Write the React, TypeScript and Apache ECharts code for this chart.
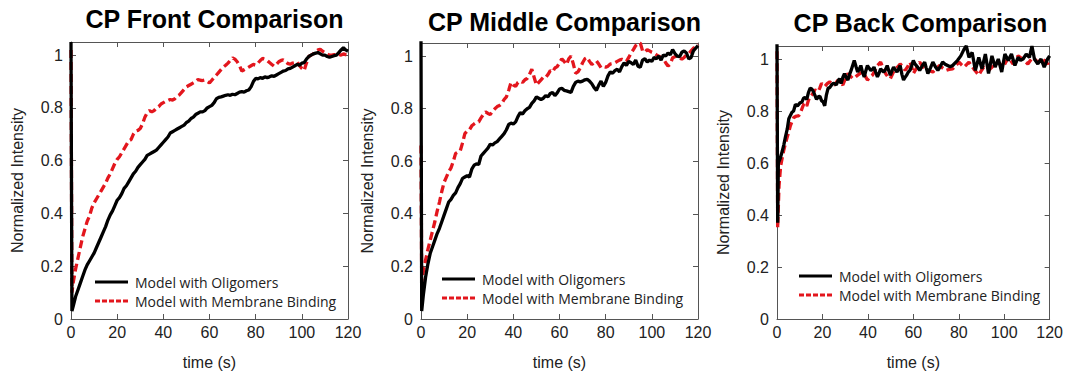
import React, { useEffect, useRef } from "react";
import * as echarts from "echarts";

const titles = ["CP Front Comparison", "CP Middle Comparison", "CP Back Comparison"];
const seriesNames = ["Model with Oligomers", "Model with Membrane Binding"];
const xTicks = { min: 0, max: 120, interval: 20 };
const yTicks = { min: 0, max: 1.05, interval: 0.2 };

const frontOligomers: [number, number][] = [[0,1.05],[0.4,0.03],[1,0.05],[2,0.085],[3,0.11],[4,0.135],[5,0.16],[6,0.185],[7,0.205],[8,0.22],[9,0.235],[10,0.25],[11,0.27],[12,0.29],[13,0.31],[14,0.33],[15,0.35],[16,0.375],[17,0.395],[18,0.41],[19,0.43],[20,0.45],[21,0.46],[22,0.475],[23,0.495],[24,0.505],[25,0.52],[26,0.535],[27,0.55],[28,0.56],[29,0.575],[30,0.585],[31,0.595],[32,0.605],[33,0.62],[34,0.625],[35,0.63],[36,0.635],[37,0.64],[38,0.65],[39,0.66],[40,0.67],[41,0.68],[42,0.69],[43,0.705],[44,0.71],[45,0.715],[46,0.72],[47,0.725],[48,0.73],[49,0.735],[50,0.745],[51,0.75],[52,0.76],[53,0.765],[54,0.775],[55,0.78],[56,0.785],[57,0.785],[58,0.79],[59,0.8],[60,0.805],[61,0.81],[62,0.82],[63,0.835],[64,0.84],[65,0.842],[66,0.845],[67,0.848],[68,0.85],[69,0.848],[70,0.852],[71,0.85],[72,0.855],[73,0.86],[74,0.862],[75,0.86],[76,0.865],[77,0.868],[78,0.88],[79,0.9],[80,0.912],[81,0.91],[82,0.915],[83,0.912],[84,0.918],[85,0.915],[86,0.918],[87,0.922],[88,0.92],[89,0.925],[90,0.93],[91,0.935],[92,0.94],[93,0.942],[94,0.948],[95,0.95],[96,0.955],[97,0.96],[98,0.965],[99,0.962],[100,0.97],[101,0.972],[102,0.985],[103,0.995],[104,1.0],[105,1.005],[106,1.008],[107,1.01],[108,1.005],[109,1.0],[110,1.0],[111,0.995],[112,0.992],[113,0.995],[114,0.998],[115,1.0],[116,1.01],[117,1.02],[118,1.028],[119,1.02],[120,1.015]];

const frontMembrane: [number, number][] = [[0,1.02],[0.4,0.1],[1,0.14],[2,0.19],[3,0.23],[4,0.27],[5,0.31],[6,0.34],[7,0.37],[8,0.39],[9,0.42],[10,0.44],[11,0.455],[12,0.47],[13,0.485],[14,0.5],[15,0.515],[16,0.535],[17,0.55],[18,0.57],[19,0.59],[20,0.605],[21,0.615],[22,0.63],[23,0.645],[24,0.66],[25,0.675],[26,0.68],[27,0.7],[28,0.712],[29,0.715],[30,0.722],[31,0.74],[32,0.765],[33,0.782],[34,0.79],[35,0.785],[36,0.79],[37,0.8],[38,0.805],[39,0.815],[40,0.82],[41,0.825],[42,0.828],[43,0.832],[44,0.83],[45,0.835],[46,0.845],[47,0.85],[48,0.86],[49,0.87],[50,0.88],[51,0.885],[52,0.89],[53,0.895],[54,0.9],[55,0.908],[56,0.905],[57,0.904],[58,0.906],[59,0.9],[60,0.895],[61,0.905],[62,0.915],[63,0.925],[64,0.935],[65,0.945],[66,0.955],[67,0.962],[68,0.97],[69,0.98],[70,0.99],[71,0.985],[72,0.975],[73,0.96],[74,0.94],[75,0.945],[76,0.95],[77,0.955],[78,0.96],[79,0.965],[80,0.962],[81,0.97],[82,0.98],[83,0.988],[84,0.985],[85,0.98],[86,0.972],[87,0.965],[88,0.958],[89,0.965],[90,0.975],[91,0.98],[92,0.982],[93,0.975],[94,0.968],[95,0.966],[96,0.97],[97,0.972],[98,0.975],[99,0.96],[100,0.95],[101,0.942],[102,0.97],[103,0.995],[104,1.0],[105,1.005],[106,1.015],[107,1.02],[108,1.022],[109,1.015],[110,1.01],[111,1.005],[112,1.0],[113,1.0],[114,1.002],[115,1.0],[116,1.003],[117,1.0],[118,1.005],[119,1.002],[120,1.0]];

const middleOligomers: [number, number][] = [[0,1.06],[0.3,0.03],[1,0.09],[2,0.16],[3,0.21],[4,0.25],[5,0.275],[6,0.3],[7,0.325],[8,0.345],[9,0.37],[10,0.395],[11,0.42],[12,0.445],[13,0.455],[14,0.47],[15,0.48],[16,0.5],[17,0.515],[18,0.535],[19,0.54],[20,0.545],[21,0.54],[22,0.57],[23,0.585],[24,0.59],[25,0.588],[26,0.62],[27,0.63],[28,0.64],[29,0.65],[30,0.665],[31,0.662],[32,0.67],[33,0.675],[34,0.685],[35,0.695],[36,0.705],[37,0.72],[38,0.74],[39,0.745],[40,0.742],[41,0.75],[42,0.77],[43,0.785],[44,0.78],[45,0.792],[46,0.8],[47,0.805],[48,0.82],[49,0.83],[50,0.845],[51,0.84],[52,0.835],[53,0.84],[54,0.85],[55,0.845],[56,0.858],[57,0.862],[58,0.85],[59,0.86],[60,0.875],[61,0.878],[62,0.87],[63,0.868],[64,0.865],[65,0.862],[66,0.885],[67,0.9],[68,0.905],[69,0.902],[70,0.905],[71,0.91],[72,0.912],[73,0.905],[74,0.895],[75,0.88],[76,0.87],[77,0.89],[78,0.905],[79,0.885],[80,0.9],[81,0.925],[82,0.94],[83,0.935],[84,0.945],[85,0.95],[86,0.94],[87,0.96],[88,0.975],[89,0.965],[90,0.98],[91,0.975],[92,0.968],[93,0.985],[94,0.962],[95,0.958],[96,0.985],[97,0.99],[98,0.978],[99,0.985],[100,0.98],[101,0.995],[102,0.99],[103,1.0],[104,0.985],[105,1.005],[106,1.0],[107,1.012],[108,1.005],[109,1.025],[110,1.01],[111,1.0],[112,0.998],[113,1.015],[114,1.02],[115,1.012],[116,0.99],[117,0.995],[118,1.02],[119,1.03],[120,1.04]];

const middleMembrane: [number, number][] = [[0,0.66],[0.3,0.14],[1,0.18],[2,0.225],[3,0.265],[4,0.3],[5,0.335],[6,0.37],[7,0.41],[8,0.445],[9,0.485],[10,0.52],[11,0.54],[12,0.56],[13,0.575],[14,0.6],[15,0.63],[16,0.635],[17,0.64],[18,0.67],[19,0.705],[20,0.715],[21,0.72],[22,0.735],[23,0.742],[24,0.748],[25,0.75],[26,0.765],[27,0.778],[28,0.788],[29,0.782],[30,0.778],[31,0.79],[32,0.8],[33,0.808],[34,0.812],[35,0.82],[36,0.835],[37,0.845],[38,0.87],[39,0.9],[40,0.89],[41,0.885],[42,0.9],[43,0.905],[44,0.9],[45,0.91],[46,0.915],[47,0.93],[48,0.95],[49,0.92],[50,0.89],[51,0.9],[52,0.91],[53,0.92],[54,0.918],[55,0.93],[56,0.945],[57,0.94],[58,0.955],[59,0.96],[60,0.975],[61,0.99],[62,0.98],[63,0.968],[64,0.99],[65,1.0],[66,0.97],[67,0.935],[68,0.94],[69,0.955],[70,0.975],[71,0.99],[72,0.995],[73,0.98],[74,0.968],[75,0.975],[76,0.982],[77,0.97],[78,0.956],[79,0.96],[80,0.958],[81,0.962],[82,0.97],[83,0.972],[84,0.975],[85,0.98],[86,0.985],[87,0.988],[88,0.984],[89,0.98],[90,0.995],[91,1.012],[92,1.025],[93,1.04],[94,1.048],[95,1.05],[96,1.02],[97,1.015],[98,1.025],[99,1.02],[100,1.015],[101,1.012],[102,1.005],[103,1.0],[104,0.995],[105,0.99],[106,0.975],[107,0.962],[108,0.97],[109,0.994],[110,0.998],[111,1.0],[112,0.995],[113,0.988],[114,0.995],[115,1.005],[116,1.01],[117,1.02],[118,1.03],[119,1.035],[120,1.045]];

const backOligomers: [number, number][] = [[0,1.06],[0.3,0.37],[0.6,0.6],[1.5,0.62],[2.3,0.645],[3,0.67],[3.7,0.7],[4.5,0.73],[5.2,0.77],[6,0.785],[6.6,0.795],[7.3,0.8],[8.1,0.825],[9,0.82],[10.2,0.832],[11,0.835],[11.7,0.85],[12.4,0.852],[13.1,0.845],[13.8,0.87],[14.6,0.888],[15.3,0.885],[16,0.875],[16.7,0.86],[17.4,0.845],[18.2,0.855],[18.9,0.856],[19.6,0.84],[20.3,0.835],[21,0.82],[21.7,0.86],[22.5,0.888],[23.2,0.89],[24,0.9],[24.7,0.906],[25.4,0.905],[26.1,0.9],[26.8,0.915],[27.5,0.925],[28.2,0.906],[29,0.93],[29.7,0.944],[30.4,0.93],[31.2,0.919],[31.9,0.94],[32.6,0.956],[33.3,0.975],[34,0.994],[34.8,0.97],[35.5,0.95],[36.2,0.96],[36.9,0.975],[37.6,0.95],[38.4,0.931],[39.1,0.955],[39.8,0.975],[40.5,0.965],[41.3,0.956],[42,0.96],[42.7,0.969],[43.4,0.95],[44.2,0.931],[44.9,0.945],[45.6,0.962],[46.3,0.955],[47,0.95],[47.8,0.96],[48.5,0.975],[49.2,0.955],[49.9,0.938],[50.6,0.955],[51.3,0.969],[52,0.96],[52.8,0.95],[53.5,0.962],[54.2,0.975],[55,0.94],[55.7,0.919],[56.4,0.93],[57.1,0.938],[57.8,0.95],[58.5,0.956],[59.3,0.975],[60,0.994],[60.7,0.981],[61.8,0.97],[62.8,0.956],[64,0.975],[65,0.988],[65.7,0.965],[66.4,0.944],[67.5,0.965],[68.6,0.988],[69.7,0.97],[70.8,0.956],[71.9,0.972],[72.9,0.988],[74,0.98],[75.1,0.975],[76.2,0.97],[77.3,0.975],[78.4,0.985],[79.4,0.994],[80.9,1.012],[82.3,1.037],[83.3,1.05],[84.5,1.006],[85.9,1.025],[87.3,0.956],[88.8,1.006],[90.2,0.962],[91.7,1.019],[93.1,0.944],[94.6,1.012],[96,0.969],[97.4,1.0],[98.9,0.95],[100.3,1.019],[101.8,0.994],[103.2,1.019],[104.7,0.975],[106.1,1.006],[107.2,0.995],[108.3,1.0],[109.7,1.019],[111.1,1.006],[112.2,1.05],[113.3,1.0],[114.8,0.981],[116.2,1.0],[117.6,0.969],[119.1,1.0],[120,1.012]];

const backMembrane: [number, number][] = [[0,1.03],[0.3,0.35],[0.9,0.513],[1.6,0.588],[2.3,0.62],[3,0.65],[3.7,0.675],[4.5,0.7],[5.2,0.72],[5.9,0.744],[6.6,0.76],[7.4,0.775],[8.4,0.78],[9.5,0.781],[10.6,0.8],[11.7,0.825],[12.4,0.83],[13.1,0.819],[13.8,0.84],[14.6,0.856],[15.6,0.865],[16.7,0.881],[17.4,0.878],[18.2,0.875],[18.9,0.89],[19.6,0.906],[20.3,0.9],[21,0.894],[22.1,0.905],[23.2,0.912],[24.3,0.905],[25.4,0.9],[26.1,0.91],[26.8,0.919],[27.9,0.91],[29,0.9],[30.1,0.925],[31.2,0.944],[32.2,0.935],[33.3,0.925],[34.4,0.93],[35.5,0.938],[36.6,0.945],[37.7,0.95],[38.8,0.935],[39.8,0.919],[40.9,0.93],[42,0.938],[43.1,0.955],[44.2,0.975],[45.6,0.988],[46.7,0.965],[47.8,0.944],[48.9,0.93],[49.9,0.925],[51,0.945],[52.1,0.962],[53.2,0.97],[54.2,0.981],[55.3,0.97],[56.4,0.956],[57.5,0.97],[58.5,0.988],[59.3,0.97],[60,0.944],[61.4,0.965],[62.8,0.988],[64.2,0.97],[65.7,0.956],[67.1,0.955],[68.6,0.95],[70,0.962],[71.5,0.975],[73,0.965],[74.4,0.956],[75.8,0.96],[77.3,0.962],[78.7,0.975],[80.1,0.988],[81.2,0.978],[82.3,0.969],[83.4,0.978],[84.5,0.988],[85.5,0.975],[86.6,0.962],[87.7,0.95],[88.8,0.938],[89.9,0.955],[91,0.969],[92,0.962],[93.1,0.956],[94.2,0.965],[95.3,0.975],[96.3,0.982],[97.4,0.988],[98.5,0.978],[99.6,0.969],[100.7,0.988],[101.8,1.006],[102.8,0.994],[103.9,0.981],[105,0.995],[106.1,1.012],[107.2,1.005],[108.3,1.0],[109.3,0.99],[110.4,0.981],[111.5,0.994],[112.6,1.006],[113.7,0.997],[114.8,0.988],[115.9,0.994],[117,1.0],[118,0.99],[119.1,0.981],[120,0.994]];

const panelData = [
  [frontOligomers, frontMembrane],
  [middleOligomers, middleMembrane],
  [backOligomers, backMembrane],
];

const grids = [
  { left: 71, top: 42, width: 277, height: 281 },
  { left: 421, top: 43, width: 277, height: 282 },
  { left: 777, top: 46, width: 277, height: 281 },
];
const titleTops = [1, 4, 5];
const legendPos = [
  { left: 95, top: 275 },
  { left: 442, top: 272 },
  { left: 799, top: 269 },
];

const FONT = "'Liberation Sans', Arial, sans-serif";
const FRAME = "#555";
const BLACK = "#000000";
const RED = "#e3161d";
const SOLID_ICON = "path://M0,0h33v3h-33z";
const DASH_ICON = "path://M0,0h5v3h-5zM7,0h5v3h-5zM14,0h5v3h-5zM21,0h5v3h-5zM28,0h5v3h-5z";

export default function App() {
  const ref = useRef<HTMLDivElement>(null);
  useEffect(() => {
    if (!ref.current) return;
    const chart = echarts.init(ref.current, undefined, { renderer: "svg" });
    const xAxis: any[] = [];
    const yAxis: any[] = [];
    const series: any[] = [];
    grids.forEach((g, i) => {
      const frame = { show: true, onZero: false, lineStyle: { color: FRAME, width: 1 } };
      const tick = { show: true, inside: true, length: 5, lineStyle: { color: FRAME } };
      xAxis.push({
        type: "value", gridIndex: i, position: "bottom", ...xTicks,
        axisLine: frame, axisTick: tick, splitLine: { show: false },
        axisLabel: { fontFamily: FONT, fontSize: 16, color: "#222", margin: 5 },
        name: "time (s)", nameLocation: "middle", nameGap: 35,
        nameTextStyle: { fontFamily: FONT, fontSize: 16, color: "#222" },
      });
      xAxis.push({
        type: "value", gridIndex: i, position: "top", ...xTicks,
        axisLine: frame, axisTick: tick, splitLine: { show: false }, axisLabel: { show: false },
      });
      yAxis.push({
        type: "value", gridIndex: i, position: "left", ...yTicks,
        axisLine: frame, axisTick: tick, splitLine: { show: false },
        axisLabel: { fontFamily: FONT, fontSize: 16, color: "#222", margin: 8, showMaxLabel: false },
        name: "Normalized Intensity", nameLocation: "middle", nameGap: 46,
        nameTextStyle: { fontFamily: FONT, fontSize: 16, color: "#222" },
      });
      yAxis.push({
        type: "value", gridIndex: i, position: "right", ...yTicks,
        axisLine: frame, axisTick: tick, splitLine: { show: false }, axisLabel: { show: false },
      });
      const [olig, memb] = panelData[i];
      series.push({
        name: seriesNames[0], type: "line", xAxisIndex: i * 2, yAxisIndex: i * 2,
        data: olig, symbol: "none", z: 3,
        lineStyle: { color: BLACK, width: 3.3 }, itemStyle: { color: BLACK },
      });
      series.push({
        name: seriesNames[1], type: "line", xAxisIndex: i * 2, yAxisIndex: i * 2,
        data: memb, symbol: "none", z: 2,
        lineStyle: { color: RED, width: 3.3, type: [8, 4] }, itemStyle: { color: RED },
      });
    });
    chart.setOption({
      animation: false,
      backgroundColor: "#ffffff",
      title: titles.map((t, i) => ({
        text: t,
        left: grids[i].left + grids[i].width / 2,
        top: titleTops[i],
        textAlign: "center",
        textStyle: { fontFamily: FONT, fontSize: 25, fontWeight: "bold", color: "#000" },
      })),
      legend: legendPos.map((p) => ({
        data: [
          { name: seriesNames[0], icon: SOLID_ICON },
          { name: seriesNames[1], icon: DASH_ICON },
        ],
        orient: "vertical",
        left: p.left,
        top: p.top,
        padding: 0,
        itemGap: 5,
        itemWidth: 33,
        itemHeight: 3,
        selectedMode: false,
        itemStyle: { borderWidth: 0 },
        textStyle: { fontFamily: "'Open Sans', sans-serif", fontSize: 14, color: "#222", padding: [0, 0, 0, 2] },
      })),
      grid: grids.map((g) => ({ ...g, containLabel: false })),
      xAxis,
      yAxis,
      series,
    });
    return () => chart.dispose();
  }, []);
  return (
    <div
      ref={ref}
      style={{ position: "absolute", left: 0, top: 0, width: 1066, height: 375, background: "#fff" }}
    />
  );
}
